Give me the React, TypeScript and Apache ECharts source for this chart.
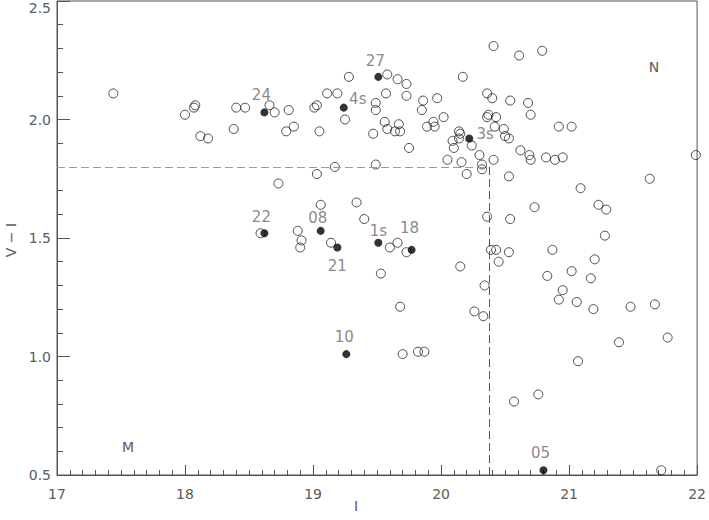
import React, { useEffect, useRef } from "react";
import * as echarts from "echarts";

// Axis ranges and ticks
const I_RANGE = [17, 22];
const VI_RANGE = [0.5, 2.5];
const I_TICK = 1;
const VI_TICK = 0.5;

// Open circles: [I, V-I]
const openStars: [number, number][] = [
  [17.44, 2.11], [18.0, 2.02], [18.07, 2.05], [18.08, 2.06], [18.12, 1.93], [18.18, 1.92],
  [18.38, 1.96], [18.4, 2.05], [18.47, 2.05], [18.66, 2.06], [18.7, 2.03], [18.81, 2.04],
  [18.79, 1.95], [18.85, 1.97], [19.01, 2.05], [19.03, 2.06], [19.05, 1.95], [19.11, 2.11],
  [19.19, 2.11], [19.25, 2.0], [19.28, 2.18], [19.03, 1.77], [19.17, 1.8], [18.73, 1.73],
  [19.47, 1.94], [19.49, 2.07], [19.49, 2.04], [19.49, 1.81], [19.56, 1.99], [19.57, 2.11],
  [19.58, 2.19], [19.58, 1.96], [19.64, 1.95], [19.66, 2.17], [19.67, 1.98], [19.68, 1.95],
  [19.73, 2.15], [19.73, 2.1], [19.75, 1.88], [19.86, 2.08], [19.85, 2.04], [19.97, 2.09],
  [19.94, 1.99], [19.89, 1.97], [19.95, 1.97], [20.02, 2.01], [20.17, 2.18], [20.14, 1.95],
  [20.15, 1.94], [20.14, 1.92], [20.09, 1.91], [20.1, 1.88], [20.24, 1.89], [20.05, 1.83],
  [20.16, 1.82], [20.2, 1.77], [20.3, 1.85], [20.32, 1.81], [20.32, 1.79], [20.41, 1.83],
  [20.53, 1.76], [20.36, 2.11], [20.4, 2.09], [20.41, 2.31], [20.36, 2.01], [20.37, 2.02],
  [20.43, 2.01], [20.42, 1.97], [20.49, 1.96], [20.5, 1.93], [20.53, 1.92], [20.54, 2.08],
  [20.61, 2.27], [20.62, 1.87], [20.69, 1.85], [20.7, 1.83], [20.68, 2.07], [20.7, 2.02],
  [20.79, 2.29], [20.82, 1.84], [20.89, 1.83], [20.95, 1.84], [20.92, 1.97], [21.02, 1.97],
  [21.99, 1.85], [19.34, 1.65], [18.59, 1.52], [18.88, 1.53], [18.91, 1.49], [18.9, 1.46],
  [19.06, 1.64], [19.14, 1.48], [19.4, 1.58], [19.6, 1.46], [19.66, 1.48], [19.73, 1.44],
  [19.53, 1.35], [19.68, 1.21], [19.7, 1.01], [19.82, 1.02], [19.87, 1.02], [20.36, 1.59],
  [20.15, 1.38], [20.39, 1.45], [20.43, 1.45], [20.45, 1.4], [20.34, 1.3], [20.26, 1.19],
  [20.33, 1.17], [21.63, 1.75], [21.09, 1.71], [20.73, 1.63], [21.23, 1.64], [21.29, 1.62],
  [21.28, 1.51], [20.54, 1.58], [20.53, 1.44], [20.87, 1.45], [21.2, 1.41], [21.02, 1.36],
  [20.83, 1.34], [21.17, 1.33], [20.95, 1.28], [20.92, 1.24], [21.06, 1.23], [21.19, 1.2],
  [21.48, 1.21], [21.67, 1.22], [21.39, 1.06], [21.77, 1.08], [21.07, 0.98], [20.76, 0.84],
  [20.57, 0.81], [21.72, 0.52],
];

// Filled (labelled) objects
const filledNames = ["24", "27", "4s", "3s", "22", "08", "21", "1s", "18", "10", "05"];
const filledI = [18.62, 19.51, 19.24, 20.22, 18.62, 19.06, 19.19, 19.51, 19.77, 19.26, 20.8];
const filledVI = [2.03, 2.18, 2.05, 1.92, 1.52, 1.53, 1.46, 1.48, 1.45, 1.01, 0.52];

// Cut lines
const cutVI = 1.8;
const cutI = 20.38;

// Corner annotations
const cornerTexts = ["M", "N"];

// label offsets from each dot (pixels), layout only
const labelOffsets: [number, number][] = [
  [-3, -17], [-3, -16], [14, -9], [16, -4], [-3, -16], [-3, -12.5],
  [0, 19], [0, -12], [-2, -22], [-2, -17], [-3, -17],
];

const FONT = "'DejaVu Sans', sans-serif";
const AXIS_COLOR = "#555";
const TEXT_COLOR = "#5a5a5a";

export default function App() {
  const ref = useRef<HTMLDivElement>(null);

  useEffect(() => {
    document.body.style.margin = "0";
    if (!ref.current) return;
    const chart = echarts.init(ref.current, undefined, { renderer: "svg" });

    chart.setOption({
      animation: false,
      grid: { left: 57, right: 10, top: 1, bottom: 45, show: true, borderColor: AXIS_COLOR, borderWidth: 1 },
      xAxis: {
        type: "value",
        min: I_RANGE[0], max: I_RANGE[1], interval: I_TICK,
        axisLine: { show: true, onZero: false, lineStyle: { color: AXIS_COLOR, width: 1 } },
        axisTick: { show: true, inside: true, length: 10, lineStyle: { color: AXIS_COLOR, width: 1 } },
        minorTick: { show: true, splitNumber: 10, length: 5, lineStyle: { color: AXIS_COLOR, width: 1 } },
        splitLine: { show: false },
        axisLabel: { color: TEXT_COLOR, fontSize: 14, fontFamily: FONT, margin: 12 },
      },
      yAxis: {
        type: "value",
        min: VI_RANGE[0], max: VI_RANGE[1], interval: VI_TICK,
        axisLine: { show: true, onZero: false, lineStyle: { color: AXIS_COLOR, width: 1 } },
        axisTick: { show: true, inside: true, length: 13, lineStyle: { color: AXIS_COLOR, width: 1 } },
        minorTick: { show: true, splitNumber: 5, length: 6, lineStyle: { color: AXIS_COLOR, width: 1 } },
        splitLine: { show: false },
        axisLabel: {
          color: TEXT_COLOR, fontSize: 14, fontFamily: FONT, margin: 6,
          formatter: (v: number) => (v >= VI_RANGE[1] ? `{top|${v.toFixed(1)}}` : v.toFixed(1)),
          rich: {
            top: { color: TEXT_COLOR, fontSize: 14, fontFamily: FONT, padding: [14, 0, 0, 0] },
          },
        },
      },
      series: [
        {
          type: "scatter",
          data: openStars,
          symbol: "circle",
          symbolSize: 9,
          itemStyle: { color: "rgba(0,0,0,0)", borderColor: "#222", borderWidth: 1 },
          markLine: {
            symbol: "none",
            silent: true,
            label: { show: false },
            data: [
              [
                { coord: [I_RANGE[0], cutVI], lineStyle: { color: "#9a9a9a", width: 1, type: [8, 4] } },
                { coord: [cutI, cutVI] },
              ],
              [
                { coord: [cutI, VI_RANGE[0]], lineStyle: { color: "#555", width: 1, type: [8, 4] } },
                { coord: [cutI, cutVI] },
              ],
            ],
          },
        },
        {
          type: "scatter",
          data: filledNames.map((n, i) => ({
            name: n,
            value: [filledI[i], filledVI[i]],
            label: { offset: labelOffsets[i] },
          })),
          symbol: "circle",
          symbolSize: 8,
          itemStyle: { color: "#000" },
          label: {
            show: true,
            position: "inside",
            formatter: "{b}",
            color: "#6a6a6a",
            fontSize: 15,
            fontFamily: FONT,
          },
        },
      ],
      graphic: [
        {
          type: "text", x: 128, y: 447,
          style: { text: cornerTexts[0], fill: TEXT_COLOR, font: `14px ${FONT}`, align: "center", verticalAlign: "middle" },
        },
        {
          type: "text", x: 654, y: 67,
          style: { text: cornerTexts[1], fill: TEXT_COLOR, font: `14px ${FONT}`, align: "center", verticalAlign: "middle" },
        },
        {
          type: "text", x: 356, y: 506,
          style: { text: "I", fill: TEXT_COLOR, font: `14px ${FONT}`, align: "center", verticalAlign: "middle" },
        },
        {
          type: "text", x: 11, y: 240, rotation: Math.PI / 2,
          style: { text: "V − I", fill: TEXT_COLOR, font: `14px ${FONT}`, align: "center", verticalAlign: "middle" },
        },
      ],
    });

    return () => chart.dispose();
  }, []);

  return <div ref={ref} style={{ width: 709, height: 520 }} />;
}
